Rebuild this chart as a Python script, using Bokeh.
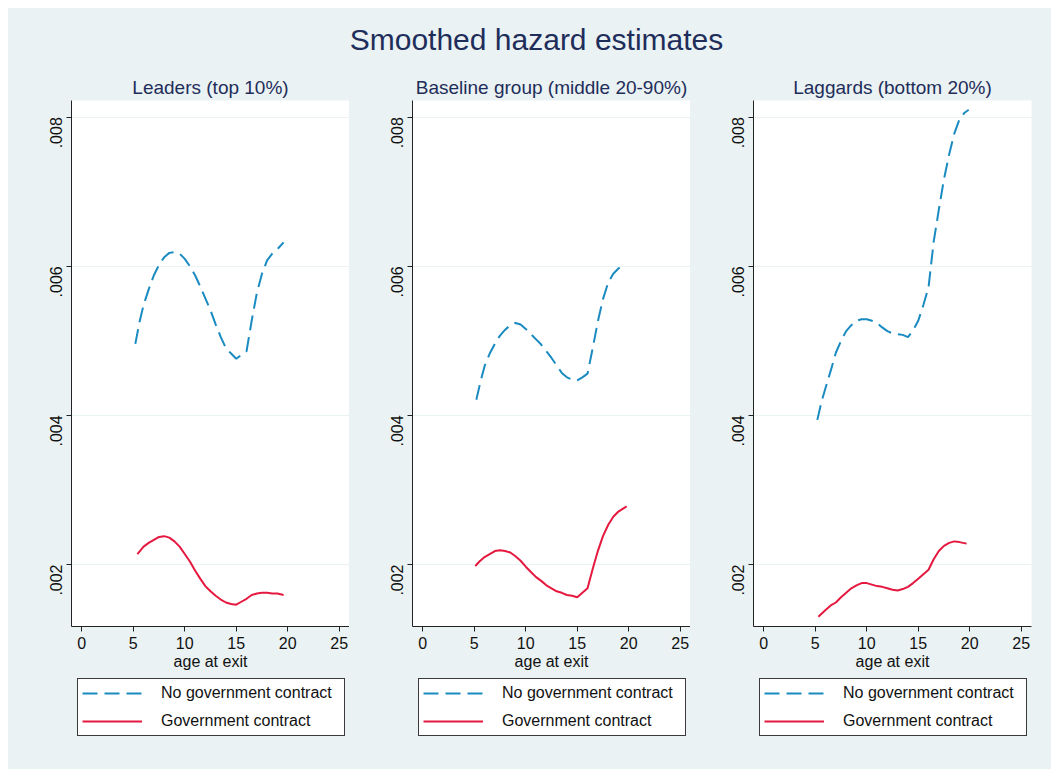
import math
from bokeh.plotting import figure
from bokeh.layouts import column, row
from bokeh.models import (Label, Legend, LegendItem, FixedTicker, CustomJSTickFormatter, Range1d, Spacer)
from bokeh.embed import file_html
from bokeh.resources import INLINE

# ---------------- data ----------------
main_title = "Smoothed hazard estimates"
panel_titles = ["Leaders (top 10%)", "Baseline group (middle 20-90%)", "Laggards (bottom 20%)"]
series_names = ["No government contract", "Government contract"]
x_label = "age at exit"
x_ticks = [0, 5, 10, 15, 20, 25]
y_ticks = [0.002, 0.004, 0.006, 0.008]

# Leaders
lead_nogov_age = [5.2, 5.6, 6.0, 6.5, 7.0, 7.5, 8.0, 8.5, 9.0, 9.5, 10.0, 10.5, 11.0, 11.5, 12.0,
                  12.5, 13.0, 13.5, 14.0, 14.5, 15.0, 15.5, 16.0, 16.5, 17.0, 17.5, 18.0, 18.5, 19.0, 19.6]
lead_nogov_val = [0.00496, 0.00525, 0.00548, 0.00569, 0.00588, 0.00602, 0.00612, 0.00618, 0.00619, 0.00617,
                  0.00610, 0.00600, 0.00588, 0.00573, 0.00557, 0.00541, 0.00522, 0.00505, 0.00490, 0.00483,
                  0.00476, 0.00481, 0.00486, 0.00527, 0.00564, 0.00590, 0.00608, 0.00617, 0.00623, 0.00632]
lead_gov_age = [5.4, 6.0, 6.5, 7.0, 7.5, 8.0, 8.5, 9.0, 9.5, 10.0, 10.5, 11.0, 11.5, 12.0, 12.5,
                13.0, 13.5, 14.0, 14.5, 15.0, 15.5, 16.0, 16.5, 17.0, 17.5, 18.0, 18.5, 19.0, 19.6]
lead_gov_val = [0.00214, 0.00224, 0.00229, 0.00233, 0.00237, 0.00238, 0.00236, 0.00231, 0.00224, 0.00214,
                0.00204, 0.00192, 0.00181, 0.00171, 0.00164, 0.00158, 0.00153, 0.00149, 0.00147, 0.00146,
                0.00150, 0.00154, 0.00159, 0.00161, 0.00162, 0.00162, 0.00161, 0.00161, 0.00159]

# Baseline
base_nogov_age = [5.2, 5.6, 6.0, 6.5, 7.0, 7.5, 8.0, 8.5, 9.0, 9.5, 10.0, 10.5, 11.0, 11.5, 12.0,
                  12.5, 13.0, 13.5, 14.0, 14.5, 15.0, 15.5, 16.0, 16.5, 17.0, 17.5, 18.0, 18.5, 19.0, 19.6]
base_nogov_val = [0.00421, 0.00445, 0.00466, 0.00483, 0.00496, 0.00507, 0.00515, 0.00521, 0.00524, 0.00522,
                  0.00516, 0.00509, 0.00502, 0.00495, 0.00486, 0.00477, 0.00467, 0.00457, 0.00451, 0.00448,
                  0.00447, 0.00451, 0.00456, 0.00490, 0.00526, 0.00556, 0.00578, 0.00590, 0.00597, 0.00604]
base_gov_age = [5.1, 5.5, 6.0, 6.5, 7.0, 7.5, 8.0, 8.5, 9.0, 9.5, 10.0, 10.5, 11.0, 11.5, 12.0,
                12.5, 13.0, 13.5, 14.0, 14.5, 15.0, 15.5, 16.0, 16.5, 17.0, 17.5, 18.0, 18.5, 19.0, 19.8]
base_gov_val = [0.00198, 0.00204, 0.00210, 0.00214, 0.00218, 0.00219, 0.00218, 0.00216, 0.00211, 0.00205,
                0.00197, 0.00190, 0.00183, 0.00178, 0.00172, 0.00168, 0.00164, 0.00162, 0.00159, 0.00158,
                0.00156, 0.00162, 0.00168, 0.00194, 0.00218, 0.00238, 0.00253, 0.00264, 0.00271, 0.00278]

# Laggards
lag_nogov_age = [5.2, 5.6, 6.0, 6.5, 7.0, 7.5, 8.0, 8.5, 9.0, 9.5, 10.0, 10.5, 11.0, 11.5, 12.0,
                 12.5, 13.0, 13.5, 14.0, 14.5, 15.0, 15.5, 16.0, 16.5, 17.0, 17.5, 18.0, 18.5, 19.0, 19.5, 19.9]
lag_nogov_val = [0.00394, 0.00418, 0.00437, 0.00460, 0.00484, 0.00500, 0.00513, 0.00521, 0.00527, 0.00529,
                 0.00529, 0.00527, 0.00524, 0.00518, 0.00513, 0.00510, 0.00509, 0.00508, 0.00505, 0.00514,
                 0.00527, 0.00548, 0.00572, 0.00633, 0.00676, 0.00717, 0.00750, 0.00778, 0.00797, 0.00806, 0.00810]
lag_gov_age = [5.3, 6.0, 6.5, 7.0, 7.5, 8.0, 8.5, 9.0, 9.5, 10.0, 10.5, 11.0, 11.5, 12.0, 12.5,
               13.0, 13.5, 14.0, 14.5, 15.0, 15.5, 16.0, 16.5, 17.0, 17.5, 18.0, 18.5, 19.0, 19.7]
lag_gov_val = [0.00130, 0.00139, 0.00145, 0.00149, 0.00156, 0.00162, 0.00168, 0.00172, 0.00175, 0.00175,
               0.00173, 0.00171, 0.00170, 0.00168, 0.00166, 0.00165, 0.00167, 0.00170, 0.00175, 0.00181,
               0.00187, 0.00193, 0.00207, 0.00218, 0.00225, 0.00229, 0.00231, 0.00230, 0.00228]

panels = [
    (lead_nogov_age, lead_nogov_val, lead_gov_age, lead_gov_val),
    (base_nogov_age, base_nogov_val, base_gov_age, base_gov_val),
    (lag_nogov_age, lag_nogov_val, lag_gov_age, lag_gov_val),
]

# ---------------- style ----------------
BG = "#EAF2F3"
NAVY = "#1E2D5A"
BLUE = "#1A8BC1"
RED = "#E5193F"
FONT = "Liberation Sans"
AXIS_COL = "#222222"
DASH = "15 7"

TOTAL_W = 1043
HEAD_H = 92
widths = [341, 341, 361]
lefts = [63, 63, 63]
rights = [0, 0, 20]
PLOT_H = 572
LEG_H = 97


def blank(fig):
    fig.axis.visible = False
    fig.grid.visible = False
    fig.outline_line_color = None
    fig.background_fill_color = BG
    fig.border_fill_color = BG


# header: main title + panel subtitles
head = figure(width=TOTAL_W, height=HEAD_H, x_range=Range1d(0, TOTAL_W), y_range=Range1d(0, HEAD_H),
              toolbar_location=None, output_backend="svg", min_border=0)
blank(head)
head.add_layout(Label(x=528, y=61, text=main_title, text_align="center", text_baseline="middle",
                      text_font=FONT, text_font_size="30px", text_color=NAVY))
x0 = 0
for i, t in enumerate(panel_titles):
    cx = x0 + lefts[i] + 139
    head.add_layout(Label(x=cx, y=13, text=t, text_align="center", text_baseline="middle",
                          text_font=FONT, text_font_size="19px", text_color=NAVY))
    x0 += widths[i]

cols = []
for i, (a1, v1, a2, v2) in enumerate(panels):
    p = figure(width=widths[i], height=PLOT_H, x_range=Range1d(-1, 26), y_range=Range1d(0.001168, 0.008224),
               toolbar_location=None, output_backend="svg",
               min_border_left=lefts[i], min_border_right=rights[i], min_border_top=0, min_border_bottom=46)
    p.background_fill_color = "white"
    p.border_fill_color = BG
    p.outline_line_color = None

    p.line(a1, v1, line_color=BLUE, line_width=2, line_dash=DASH)
    p.line(a2, v2, line_color=RED, line_width=2)

    p.xgrid.visible = False
    p.ygrid.grid_line_color = BG
    p.ygrid.grid_line_width = 1
    p.ygrid.ticker = FixedTicker(ticks=y_ticks)

    p.xaxis.ticker = FixedTicker(ticks=x_ticks)
    p.yaxis.ticker = FixedTicker(ticks=y_ticks)
    p.yaxis.formatter = CustomJSTickFormatter(code="return tick.toFixed(3).replace(/^0/, '');")
    p.yaxis.major_label_orientation = math.pi / 2
    p.xaxis.axis_label = x_label
    for ax in (p.xaxis, p.yaxis):
        ax.axis_line_color = AXIS_COL
        ax.axis_line_width = 1
        ax.major_tick_line_color = AXIS_COL
        ax.major_tick_out = 5
        ax.major_tick_in = 0
        ax.minor_tick_line_color = None
        ax.major_label_text_font = FONT
        ax.major_label_text_font_size = "16px"
        ax.major_label_text_color = "#111111"
        ax.axis_label_text_font = FONT
        ax.axis_label_text_font_size = "16px"
        ax.axis_label_text_font_style = "normal"
        ax.axis_label_text_color = "#111111"
    p.xaxis.major_label_standoff = 5
    p.xaxis.axis_label_standoff = 1
    p.yaxis.major_label_standoff = 10

    # legend panel below the plot (series drawn out of view, only their legend glyphs show)
    lf = figure(width=widths[i], height=LEG_H, x_range=Range1d(-2, -1), y_range=Range1d(-2, -1),
                toolbar_location=None, output_backend="svg",
                min_border_left=lefts[i], min_border_right=rights[i], min_border_top=0, min_border_bottom=0)
    blank(lf)
    g1 = lf.line(a1, v1, line_color=BLUE, line_width=2, line_dash=DASH)
    g2 = lf.line(a2, v2, line_color=RED, line_width=2)
    leg = Legend(items=[LegendItem(label=series_names[0], renderers=[g1]),
                        LegendItem(label=series_names[1], renderers=[g2])],
                 location="top_left", orientation="vertical")
    leg.border_line_color = "#3a3a3a"
    leg.border_line_alpha = 1.0
    leg.border_line_width = 1
    leg.background_fill_color = "white"
    leg.background_fill_alpha = 1
    leg.label_text_font = FONT
    leg.label_text_font_size = "16px"
    leg.label_text_color = "#111111"
    leg.label_text_baseline = "middle"
    leg.glyph_width = 60
    leg.glyph_height = 20
    leg.label_height = 20
    leg.label_width = 179
    leg.label_standoff = 19
    leg.spacing = 8
    leg.padding = 4
    leg.margin = 6
    lf.add_layout(leg, "center")

    cols.append(column(p, lf, spacing=0))

content = column(head, row(*cols, spacing=0, styles={"background-color": BG}),
                 spacing=0, styles={"background-color": BG})
layout = column(Spacer(height=8, width=TOTAL_W + 8),
                row(Spacer(width=8, height=HEAD_H + PLOT_H + LEG_H), content, spacing=0),
                spacing=0)
open("out.html", "w").write(file_html(layout, INLINE))
